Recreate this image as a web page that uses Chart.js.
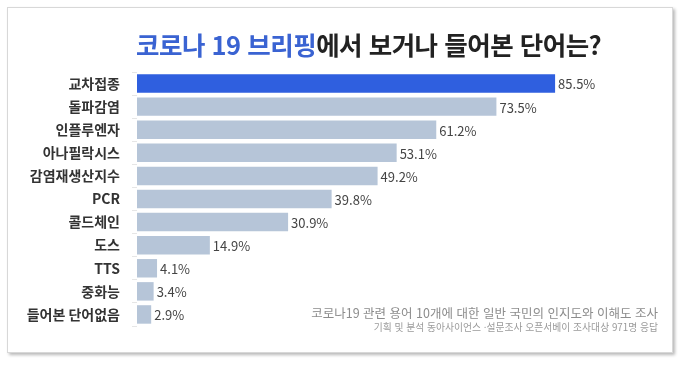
<!DOCTYPE html>
<html lang="ko">
<head>
<meta charset="utf-8">
<script src="https://cdn.jsdelivr.net/npm/chart.js@4/dist/chart.umd.min.js"></script>
<style>
  body { margin: 0; background: #fff; font-family: "Noto Sans CJK KR", "Noto Sans", sans-serif; }
  #stage { position: relative; width: 680px; height: 366px; overflow: hidden; }
  #card {
    position: absolute; left: 7px; top: 7px; width: 664px; height: 344px;
    border: 1px solid #d8d8d8; box-shadow: 2px 2px 3px rgba(0,0,0,0.28); background: #fff;
  }
  #chartBox { position: absolute; left: 0; top: 0; width: 680px; height: 366px; }
  #title {
    position: absolute; left: 136px; top: 28px; font-size: 25.5px; line-height: 32px;
    font-weight: 700; color: #222; white-space: nowrap; letter-spacing: -0.5px;
  }
  #title span { color: #3a63d2; }
  .note { position: absolute; right: 22px; white-space: nowrap; text-align: right; }
  #note1 { top: 304px; font-size: 12.5px; line-height: 17px; color: #8c8c8c; }
  #note2 { top: 321px; font-size: 9.8px; line-height: 13px; color: #9a9a9a; }
</style>
</head>
<body>
<div id="stage">
  <div id="card"></div>
  <div id="chartBox"><canvas id="termChart" width="680" height="366"></canvas></div>
  <div id="title"><span>코로나 19 브리핑</span>에서 보거나 들어본 단어는?</div>
  <div class="note" id="note1">코로나19 관련 용어 10개에 대한 일반 국민의 인지도와 이해도 조사</div>
  <div class="note" id="note2">기획 및 분석 동아사이언스 ·설문조사 오픈서베이 조사대상 971명 응답</div>
</div>
<script>
// survey terms and share of respondents (%)
const terms = ['교차접종', '돌파감염', '인플루엔자', '아나필락시스', '감염재생산지수', 'PCR', '콜드체인', '도스', 'TTS', '중화능', '들어본 단어없음'];
const shares = [85.5, 73.5, 61.2, 53.1, 49.2, 39.8, 30.9, 14.9, 4.1, 3.4, 2.9];

const barColors = shares.map((v, i) => i === 0 ? '#2f5fdf' : '#b6c5d8');

// draws "xx.x%" right after each bar
const valueLabels = {
    id: 'valueLabels',
    afterDatasetsDraw(chart) {
        const ctx = chart.ctx;
        const meta = chart.getDatasetMeta(0);
        ctx.save();
        ctx.font = '13px "Noto Sans CJK KR", "Noto Sans", sans-serif';
        ctx.fillStyle = '#444';
        ctx.textBaseline = 'middle';
        ctx.textAlign = 'left';
        meta.data.forEach((bar, i) => {
            ctx.fillText(shares[i].toFixed(1) + '%', bar.x + 3, bar.y + 1);
        });
        ctx.restore();
    }
};

new Chart(document.getElementById('termChart'), {
    type: 'bar',
    data: {
        labels: terms,
        datasets: [{
            data: shares,
            backgroundColor: barColors,
            barPercentage: 0.8,
            categoryPercentage: 1
        }]
    },
    options: {
        indexAxis: 'y',
        responsive: false,
        animation: false,
        layout: { padding: { left: 0, right: 54, top: 72, bottom: 40 } },
        plugins: {
            legend: { display: false },
            tooltip: { enabled: false }
        },
        scales: {
            x: { display: false, min: 0, max: 100 },
            y: {
                afterFit(scale) { scale.width = 137; },
                border: { display: false },
                grid: { drawOnChartArea: false, tickLength: 5, tickColor: '#e6e6e6' },
                ticks: {
                    padding: 12,
                    color: '#333',
                    font: { family: '"Noto Sans CJK KR", sans-serif', size: 14, weight: 'bold' }
                }
            }
        }
    },
    plugins: [valueLabels]
});
</script>
</body>
</html>
